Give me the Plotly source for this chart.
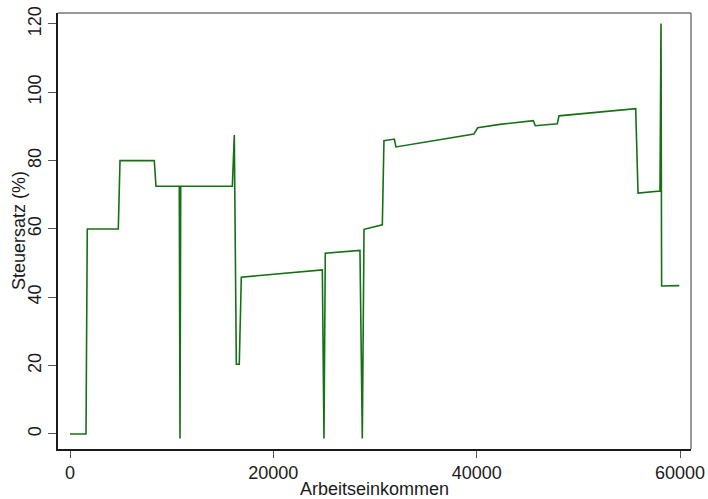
import plotly.graph_objects as go

einkommen = [0, 1574, 1700, 4750, 4920, 8290, 8460, 10750, 10820, 10890, 15970,
             16160, 16360, 16650, 16850, 24820, 24980, 25110, 28520, 28750, 28920,
             30720, 30880, 31900, 32060, 39730, 40100, 42280, 45570, 45770, 47930,
             48100, 55640, 55870, 58030, 58130, 58190, 59930]
steuersatz = [0, 0, 60, 60, 80, 80, 72.5, 72.5, -1.3, 72.5, 72.5,
              87.5, 20.4, 20.4, 45.9, 48.0, -1.3, 52.9, 53.7, -1.3, 59.9,
              61.2, 85.8, 86.3, 84.0, 87.8, 89.6, 90.6, 91.7, 90.2, 90.8,
              93.1, 95.2, 70.5, 71.1, 120.1, 43.3, 43.4]

x_ticks = [0, 20000, 40000, 60000]
y_ticks = [0, 20, 40, 60, 80, 100, 120]

fig = go.Figure()
fig.add_trace(go.Scatter(x=einkommen, y=steuersatz, mode="lines",
                         line=dict(color="rgb(22,112,22)", width=1.6),
                         showlegend=False, hoverinfo="skip"))

font = dict(family="Liberation Sans, Arial, sans-serif", size=18, color="#1a1a1a")

L, R, T, B = 58, 17, 13, 50
W, H = 708, 499
pw, ph = W - L - R, H - T - B

fig.update_layout(
    width=W, height=H,
    margin=dict(l=L, r=R, t=T, b=B),
    paper_bgcolor="white", plot_bgcolor="white",
    font=font,
    xaxis=dict(range=[-1180, 61080], tickvals=x_ticks, tickformat="d",
               ticks="outside", ticklen=7, tickwidth=1.2, tickcolor="#555",
               showgrid=False, zeroline=False, showline=True, linecolor="#1a1a1a",
               linewidth=1.5, tickfont=font, automargin=False),
    yaxis=dict(range=[-4.4, 123.2], tickvals=y_ticks, tickangle=-90,
               ticks="outside", ticklen=8, tickwidth=1.2, tickcolor="#555",
               showgrid=False, zeroline=False, showline=True, linecolor="#1a1a1a",
               linewidth=1.5, tickfont=font, automargin=False),
    shapes=[
        dict(type="line", xref="paper", yref="paper", x0=0, x1=1, y0=1, y1=1,
             line=dict(color="#777", width=1.5)),
        dict(type="line", xref="paper", yref="paper", x0=1, x1=1, y0=0, y1=1,
             line=dict(color="#777", width=1.5)),
    ],
    annotations=[
        dict(text="Arbeitseinkommen", xref="paper", yref="paper",
             x=0.5, y=-(489 - (T + ph)) / ph, xanchor="center", yanchor="middle",
             showarrow=False, font=font),
        dict(text="Steuersatz (%)", xref="paper", yref="paper", textangle=-90,
             x=-(L - 19) / pw, y=1 - (231 - T) / ph, xanchor="center", yanchor="middle",
             showarrow=False, font=font),
    ],
)

fig.write_html("out.html")
